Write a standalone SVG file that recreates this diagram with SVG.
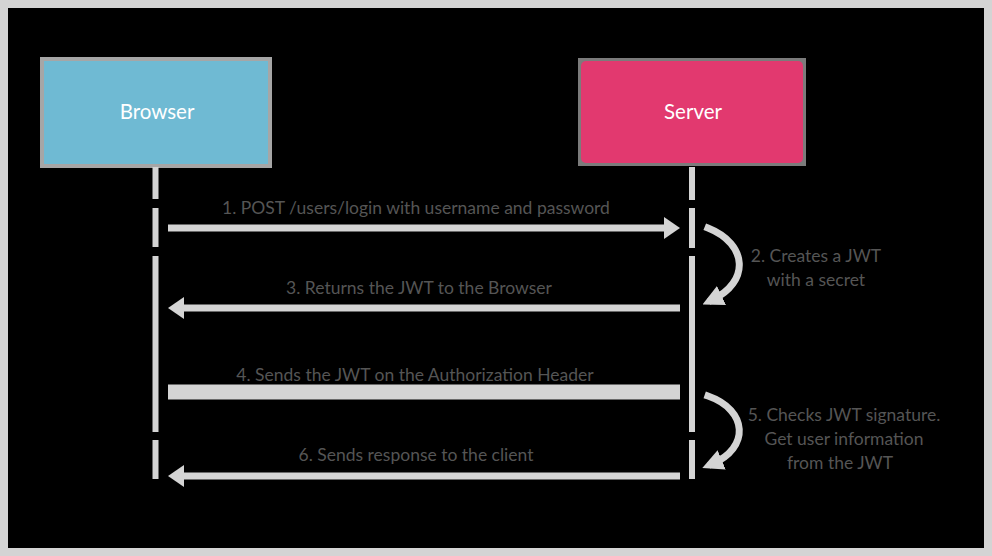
<svg xmlns="http://www.w3.org/2000/svg" width="992" height="556" viewBox="0 0 992 556">
  <style>
    .frame { fill: #000; stroke: #d4d4d4; stroke-width: 8; }
    .box-label { font-family: Lato, "Open Sans", sans-serif; font-size: 20.5px; fill: #fff; text-anchor: middle; }
    .label { font-family: Lato, "Open Sans", sans-serif; font-size: 17.5px; fill: #555; text-anchor: middle; }
    .lifeline { stroke: #d4d4d4; stroke-width: 6; }
    .msg { stroke: #d4d4d4; stroke-width: 7; fill: none; }
    .head { fill: #d4d4d4; }
    .curl { stroke: #d4d4d4; stroke-width: 7; fill: none; stroke-linecap: square; }
  </style>
  <defs>
    <marker id="curl-head" viewBox="0 0 10 10" refX="5" refY="5" markerWidth="3" markerHeight="3" orient="auto">
      <path d="M0,0 L10,5 L0,10 Z" fill="#d4d4d4"/>
    </marker>
  </defs>

  <rect class="frame" x="4" y="4" width="984" height="548"/>

  <g id="browser">
    <rect x="42" y="59" width="228" height="107" fill="#6fbad3" stroke="#a6a6a6" stroke-width="4"/>
    <text class="box-label" x="157" y="119">Browser</text>
  </g>

  <g id="server">
    <rect x="578" y="58" width="228" height="108" fill="#7b7b7b"/>
    <rect x="581" y="61" width="222" height="102" rx="5" fill="#e2396f"/>
    <text class="box-label" x="693" y="119">Server</text>
  </g>

  <g id="connectors">
    <!-- lifelines -->
    <path class="lifeline" d="M155.5,167 V199 M155.5,208 V247 M155.5,256 V432 M155.5,440 V479"/>
    <path class="lifeline" d="M692,167 V200 M692,208 V248 M692,256 V432 M692,440 V479"/>

    <!-- 1: browser to server -->
    <line class="msg" x1="168" y1="228" x2="666" y2="228"/>
    <polygon class="head" points="664,217 680,228 664,239"/>

    <!-- 3: server to browser -->
    <line class="msg" x1="182" y1="308" x2="680" y2="308"/>
    <polygon class="head" points="184,297 168,308 184,319"/>

    <!-- 4: browser to server -->
    <line x1="168" y1="392" x2="680" y2="392" stroke="#d4d4d4" stroke-width="15"/>

    <!-- 6: server to browser -->
    <line class="msg" x1="182" y1="476" x2="680" y2="476"/>
    <polygon class="head" points="184,465 168,476 184,487"/>

    <!-- server-side steps -->
    <path class="curl" d="M708,228 C748,244 750,282 712,300" marker-end="url(#curl-head)"/>
    <path class="curl" d="M708,396 C748,410 750,448 712,464" marker-end="url(#curl-head)"/>
  </g>

  <g id="labels">
    <text class="label" x="416" y="214">1. POST /users/login with username and password</text>
    <text class="label" x="419" y="294">3. Returns the JWT to the Browser</text>
    <text class="label" x="415" y="381">4. Sends the JWT on the Authorization Header</text>
    <text class="label" x="416" y="461">6. Sends response to the client</text>
    <text class="label" x="816" y="262">2. Creates a JWT<tspan x="816" y="286">with a secret</tspan></text>
    <text class="label" x="844" y="421">5. Checks JWT signature.<tspan x="844" y="445">Get user information</tspan><tspan x="840" y="469">from the JWT</tspan></text>
  </g>
</svg>
